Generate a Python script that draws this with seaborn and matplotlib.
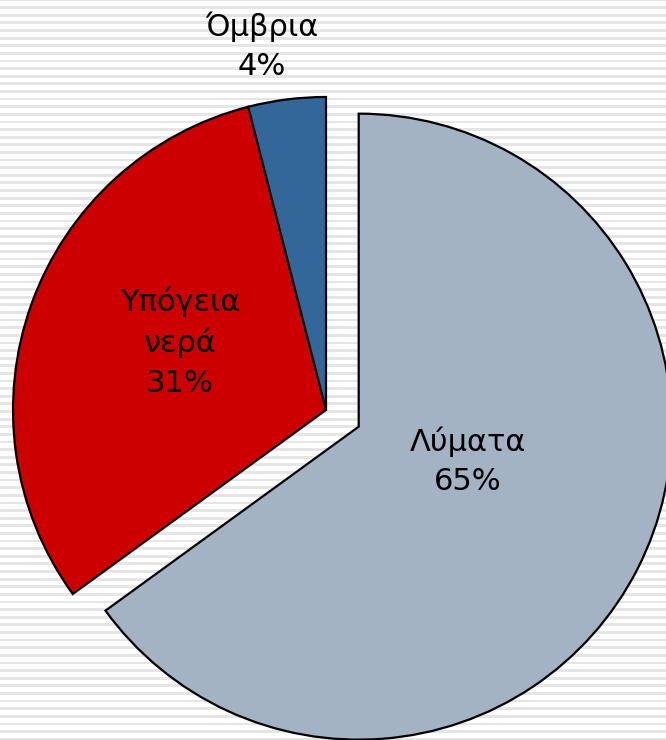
import numpy as np
import matplotlib
matplotlib.use("Agg")
import matplotlib.pyplot as plt
import seaborn as sns

# source shares of the pollution (%)
labels = ["Λύματα", "Υπόγεια\nνερά", "Όμβρια"]
shares = [65, 31, 4]
colors = ["#a3b3c3", "#cc0000", "#336699"]

sns.set_theme(style="white")
plt.rcParams["font.family"] = ["DejaVu Sans"]

fig = plt.figure(figsize=(6.66, 7.40), dpi=100)
ax = fig.add_axes([0, 0, 1, 1])

# striped slide background
for y in np.arange(0, 745, 7.62):
    ax.axhspan(-y - 1.4, -y + 1.4, color="#e5e5e5", lw=0, zorder=0)

# explode is in data units here (radius is in pixels)
wedges, _ = ax.pie(shares, colors=colors, explode=[36.7, 0, 0], startangle=90,
                   counterclock=False, radius=313, center=(326, -410),
                   wedgeprops=dict(edgecolor="black", linewidth=1.6),
                   frame=True)
for w in wedges:
    w.set_zorder(2)
ax.set_xlim(0, 666)
ax.set_ylim(-740, 0)
ax.set_aspect("equal")
ax.axis("off")

# label positions (pixel layout)
label_pos = [(468, -461), (180, -342), (262, -46)]
for lab, val, (x, y) in zip(labels, shares, label_pos):
    ax.text(x, y, f"{lab}\n{val}%", ha="center", va="center", fontsize=22,
            linespacing=1.45, color="black", zorder=3)

fig.savefig("out.png", dpi=100)
